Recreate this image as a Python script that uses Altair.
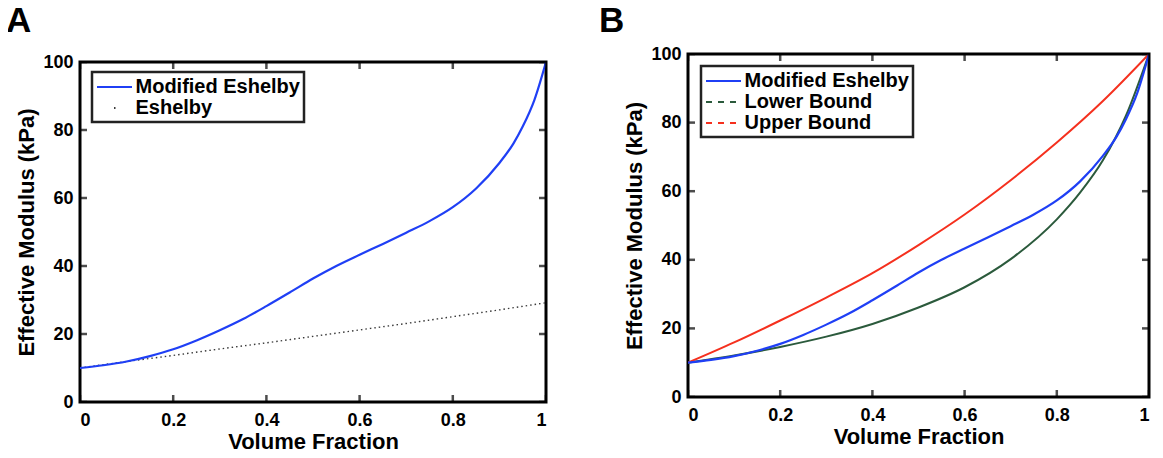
import altair as alt
import pandas as pd

# ---------------- data ----------------
vf_mod = [0, 0.05, 0.1, 0.15, 0.2, 0.25, 0.3, 0.35, 0.4, 0.45, 0.5, 0.55, 0.6, 0.65,
          0.7, 0.75, 0.8, 0.85, 0.9, 0.93, 0.95, 0.975, 1.0]
modified = [10, 10.8, 11.9, 13.5, 15.5, 18.1, 21.1, 24.4, 28.2, 32.2, 36.3, 40.0, 43.3, 46.5,
            49.8, 53.2, 57.3, 62.8, 70.3, 76.0, 81.0, 88.8, 100]

vf_esh = [0, 0.1, 0.2, 0.3, 0.4, 0.5, 0.6, 0.7, 0.8, 0.9, 1.0]
eshelby = [10, 11.9, 13.7, 15.6, 17.4, 19.3, 21.2, 23.1, 25.1, 27.1, 29.2]

vf_up = [0, 0.1, 0.2, 0.3, 0.4, 0.5, 0.6, 0.7, 0.8, 0.9, 1.0]
upper = [10, 15.9, 22.3, 29.0, 36.1, 44.3, 53.2, 63.2, 74.2, 86.3, 100]

vf_low = [0, 0.1, 0.2, 0.3, 0.4, 0.5, 0.6, 0.7, 0.8, 0.85, 0.9, 0.95, 1.0]
lower = [10, 12.1, 14.6, 17.6, 21.3, 26.1, 32.0, 40.2, 51.8, 59.5, 69.0, 82.0, 100]

x_ticks = [0, 0.2, 0.4, 0.6, 0.8, 1.0]
y_ticks = [0, 20, 40, 60, 80, 100]

BLUE = "#1f3ff5"
GRAY = "#3a3a3a"
GREEN = "#2b5a3c"
RED = "#f5301e"
FONT = "Liberation Sans"

# ---------------- tables ----------------
def series(name, xs, ys):
    return pd.DataFrame({"vf": xs, "E": ys, "series": name, "order": range(len(xs))})

df_mod = series("Modified Eshelby", vf_mod, modified)
df_esh = series("Eshelby", vf_esh, eshelby)
df_low = series("Lower Bound", vf_low, lower)
df_up = series("Upper Bound", vf_up, upper)
xt = pd.DataFrame({"t": x_ticks})
yt = pd.DataFrame({"t": y_ticks})

xscale = alt.Scale(domain=[0, 1], nice=False)
yscale = alt.Scale(domain=[0, 100], nice=False)

XAXIS = alt.Axis(values=x_ticks, format="~g", title="Volume Fraction",
                 labelPadding=9, titlePadding=2)
YAXIS = alt.Axis(values=y_ticks, title="Effective Modulus (kPa)",
                 labelPadding=7, titlePadding=4)
XENC = alt.X("vf:Q", scale=xscale, axis=XAXIS)
YENC = alt.Y("E:Q", scale=yscale, axis=YAXIS)


def curve(df, color, width, dash=None):
    kw = dict(interpolate="monotone", clip=True, color=color, strokeWidth=width)
    if dash:
        kw["strokeDash"] = dash
    return alt.Chart(df).mark_line(**kw).encode(x=XENC, y=YENC, order="order:Q")


def legend_layer(df, domain, colors, dashes, x, y):
    leg = alt.Legend(
        title=None, orient="none", legendX=x, legendY=y,
        symbolType="M-1.75,0H1.75", symbolSize=400, symbolStrokeWidth=2,
        symbolOffset=7.5,
        labelFont=FONT, labelFontWeight="bold", labelFontSize=20, labelColor="black",
        labelOffset=10, labelLimit=400, rowPadding=0, padding=4,
        strokeColor="#222", fillColor="white",
    )
    return alt.Chart(df).mark_line().encode(
        x=XENC, y=YENC,
        color=alt.Color("series:N", scale=alt.Scale(domain=domain, range=colors), legend=leg),
        strokeDash=alt.StrokeDash("series:N", scale=alt.Scale(domain=domain, range=dashes), legend=leg),
    ).transform_filter("false")


def frame_ticks():
    tx = alt.Chart(xt).mark_tick(orient="vertical", size=14, thickness=2.5,
                                 color="black", clip=True)
    ty = alt.Chart(yt).mark_tick(orient="horizontal", size=14, thickness=2.5,
                                 color="black", clip=True)
    xe = alt.X("t:Q", scale=xscale, axis=XAXIS)
    ye = alt.Y("t:Q", scale=yscale, axis=YAXIS)
    return [
        tx.encode(x=xe, y=alt.datum(0)),
        tx.encode(x=xe, y=alt.datum(100)),
        ty.encode(y=ye, x=alt.datum(0)),
        ty.encode(y=ye, x=alt.datum(1)),
    ]


def title(letter, offset, dx):
    return alt.TitleParams(letter, anchor="start", frame="group", dx=dx,
                           offset=offset,
                           fontSize=35, fontWeight="bold", font=FONT, color="black")


a = alt.layer(
    curve(df_esh, GRAY, 1.4, [1.5, 3]),
    curve(df_mod, BLUE, 2.2),
    legend_layer(pd.concat([df_mod, df_esh]), ["Modified Eshelby", "Eshelby"], [BLUE, GRAY],
                 [[1, 0], [0, 17, 1.5, 40]], 12, 18),
    *frame_ticks(),
).properties(width=466, height=340, title=title("A", 14, -74))

spacer = alt.Chart(pd.DataFrame({"s": [0]})).mark_point(opacity=0).encode(
    x=alt.value(0), y=alt.value(0)
).properties(width=466, height=1, view=alt.ViewBackground(strokeOpacity=0))

col_a = alt.vconcat(spacer, a, spacing=7, bounds="flush")

b = alt.layer(
    curve(df_low, GREEN, 2.0),
    curve(df_up, RED, 2.0),
    curve(df_mod, BLUE, 2.2),
    legend_layer(pd.concat([df_mod, df_low, df_up]),
                 ["Modified Eshelby", "Lower Bound", "Upper Bound"], [BLUE, GREEN, RED],
                 [[1, 0], [6, 6], [6, 6]], 13, 12),
    *frame_ticks(),
).properties(width=461, height=343, title=title("B", 6, -89))

chart = alt.hconcat(col_a, b, spacing=49).resolve_scale(
    color="independent", strokeDash="independent"
).properties(
    padding={"left": -4, "top": -6, "right": 0, "bottom": 0}
).configure_view(
    stroke="black", strokeWidth=3
).configure_axis(
    domain=False, ticks=False, grid=False,
    labelFont=FONT, labelFontWeight="bold", labelFontSize=18, labelColor="black",
    titleFont=FONT, titleFontWeight="bold", titleFontSize=22, titleColor="black",
).configure_legend(
    strokeWidth=2.5
)

chart.save("out.html", embed_options={"renderer": "svg", "actions": False})
